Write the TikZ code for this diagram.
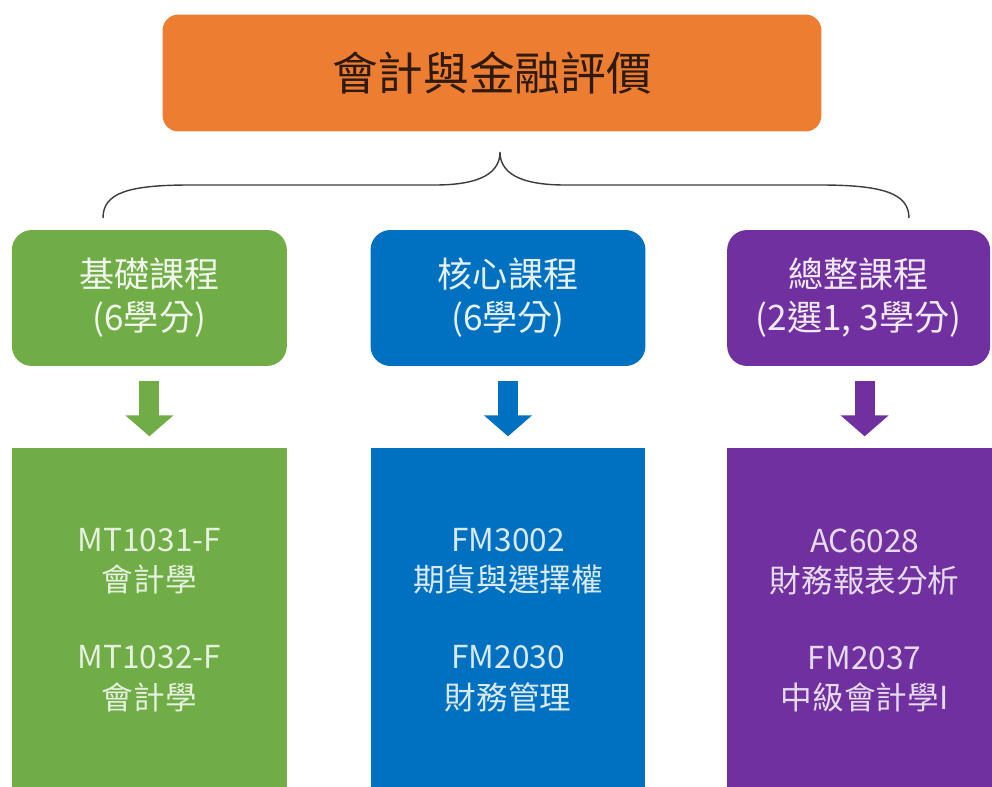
\documentclass[tikz,border=0pt]{standalone}
\usepackage{fontspec}
\setmainfont{Noto Sans CJK TC}
\usepackage{xcolor}
\usepackage{tikz}
\usetikzlibrary{arrows.meta, positioning}

\definecolor{titleorange}{HTML}{ED7D31}
\definecolor{basegreen}{HTML}{70AD47}
\definecolor{coreblue}{HTML}{0070C0}
\definecolor{cappurple}{HTML}{7030A0}
\definecolor{titletext}{HTML}{2E1A0E}
\definecolor{bracegray}{HTML}{3C3C3C}

\begin{document}
\begin{tikzpicture}[
        x=0.02cm, y=-0.02cm,
        node distance=1.66cm,
        titlebox/.style={rectangle, rounded corners=0.32cm, fill=titleorange, text=titletext, minimum width=13.18cm, minimum height=2.34cm, font=\fontsize{26}{30}\selectfont},
        headbox/.style={rectangle, rounded corners=0.4cm, minimum width=5.5cm, minimum height=2.72cm, align=center, font=\fontsize{20}{24.5}\selectfont},
        listbox/.style={rectangle, minimum width=5.5cm, minimum height=6.9cm, align=center, font=\fontsize{18}{22.8}\selectfont},
        downarrow/.style={line width=0.4cm, -{Triangle[width=0.94cm, length=0.42cm]}, shorten <=0.29cm, shorten >=0.22cm},
        bracepath/.style={draw=bracegray, line width=0.8pt}
    ]
    \useasboundingbox (0,0) rectangle (992,787);

    \node (title) [titlebox] at (492,73) {會計與金融評價};

    \node (core) [headbox, fill=coreblue, text=white!90!coreblue] at (508,298) {核心課程\\(6學分)};
    \node (base) [headbox, fill=basegreen, text=white!90!basegreen, left=of core] {基礎課程\\(6學分)};
    \node (capstone) [headbox, fill=cappurple, text=white!90!cappurple, minimum width=5.26cm, right=1.62cm of core] {總整課程\\(2選1, 3學分)};

    \node (baselist) [listbox, fill=basegreen, text=white!82!basegreen, below=1.62cm of base] {MT1031-F\\會計學\\[0.74cm]MT1032-F\\會計學};
    \node (corelist) [listbox, fill=coreblue, text=white!85!coreblue, below=1.62cm of core] {FM3002\\期貨與選擇權\\[0.74cm]FM2030\\財務管理};
    \node (caplist) [listbox, fill=cappurple, text=white!82!cappurple, below=1.62cm of capstone.south west, anchor=north west] {AC6028\\財務報表分析\\[0.74cm]FM2037\\中級會計學I};

    % brace under the title
    \coordinate (bracetip) at (500,152);
    \coordinate (braceL) at (103,218);
    \coordinate (braceR) at (909,218);
    \draw[bracepath] (braceL) .. controls (103,193) and (128,185) .. (190,185) -- (435,185)
        .. controls (482,185) and (500,172) .. (bracetip)
        .. controls (500,172) and (518,185) .. (565,185) -- (820,185)
        .. controls (882,185) and (909,193) .. (braceR);

    \draw[downarrow, basegreen] (base) -- (baselist);
    \draw[downarrow, coreblue] (core) -- (corelist);
    \draw[downarrow, cappurple] (caplist.north |- capstone.south) -- (caplist.north);
\end{tikzpicture}
\end{document}
